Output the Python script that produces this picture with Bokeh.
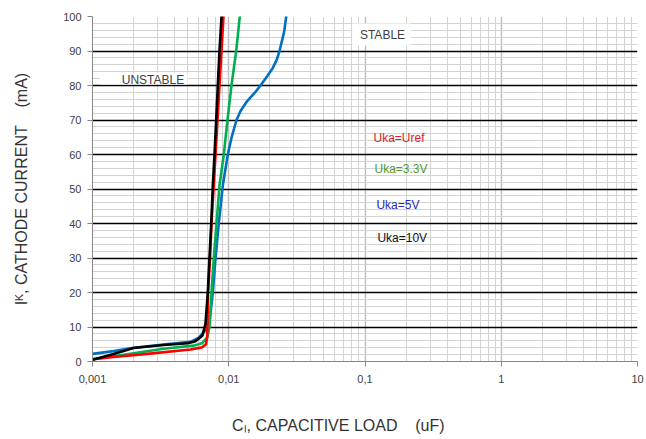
from bokeh.plotting import figure
from bokeh.models import FixedTicker, ColumnDataSource
from bokeh.core.properties import value
from bokeh.embed import file_html
from bokeh.resources import INLINE

# ---------------- data ----------------
x_ticks = [0.001, 0.01, 0.1, 1, 10]
x_tick_labels = ["0,001", "0,01", "0,1", "1", "10"]
y_ticks = [0, 10, 20, 30, 40, 50, 60, 70, 80, 90, 100]

# Uka = Uref (red)
c_uref = [0.001, 0.00143, 0.00252, 0.00524, 0.00638, 0.00680, 0.00695, 0.00705,
          0.00729, 0.00747, 0.0080, 0.00855, 0.00915]
i_uref = [0.7, 1.3, 2.2, 3.5, 4.1, 5.0, 7.0, 20, 30, 40, 60, 80, 100]

# Uka = 3.3V (green)
c_33 = [0.001, 0.00143, 0.00332, 0.00551, 0.00638, 0.00695, 0.00722, 0.00747,
        0.00777, 0.00813, 0.00855, 0.0092, 0.00979, 0.01047, 0.01134, 0.01205]
i_33 = [0.6, 1.5, 3.7, 4.6, 5.3, 7.0, 10, 20, 30, 40, 51, 60, 70, 80, 90, 100]

# Uka = 5V (blue)
c_5 = [0.001, 0.00143, 0.0020, 0.00332, 0.00524, 0.00603, 0.00656, 0.00715,
       0.00764, 0.0080, 0.00845, 0.00904, 0.00984, 0.01047, 0.0114, 0.0122, 0.01366,
       0.01553, 0.0171, 0.01915, 0.02106, 0.02253, 0.02358, 0.02553, 0.02641]
i_5 = [2.2, 3.0, 4.0, 4.9, 5.7, 6.9, 8.5, 10, 20, 30, 40, 51, 60, 64.8, 70, 72.6, 75.5,
       77.9, 80, 82.7, 85.1, 87.5, 90, 95.7, 100]

# Uka = 10V (black)
c_10 = [0.001, 0.00143, 0.0020, 0.00332, 0.0050, 0.0057, 0.0064, 0.00675, 0.00702,
        0.00722, 0.00744, 0.00764, 0.00786, 0.00809, 0.00831, 0.00855, 0.00885]
i_10 = [0.5, 2.2, 3.9, 4.8, 5.3, 5.9, 7.5, 10.9, 20, 30, 40, 51, 60, 70, 80, 90, 100]

legend_labels = ["Uka=Uref", "Uka=3.3V", "Uka=5V", "Uka=10V"]
legend_colors = ["#e3171d", "#4f9a2c", "#2b2bb3", "#111111"]
line_colors = ["#ff0000", "#00b050", "#0070c0", "#000000"]

NB = "\u00a0"
x_title = "C\u2097, CAPACITIVE LOAD" + NB * 4 + "(uF)" + NB * 12
y_title = "I\u1d37, CATHODE CURRENT" + NB * 4 + "(mA)"

# ---------------- figure ----------------
W, H = 646, 439
p = figure(width=W, height=H, x_axis_type="log", x_range=(0.001, 10), y_range=(0, 100),
           output_backend="svg", toolbar_location=None,
           min_border_left=92, min_border_right=9, min_border_top=16, min_border_bottom=78)
p.outline_line_color = None
p.background_fill_color = "white"

x_minor = [k * 10 ** e for e in range(-3, 1) for k in range(2, 10)]
y_minor = [v for v in range(2, 100, 2) if v % 10 != 0]

# grids
p.xgrid.ticker = FixedTicker(ticks=x_ticks, minor_ticks=x_minor)
p.xgrid.grid_line_color = "#bdbdbd"
p.xgrid.grid_line_width = 1.4
p.xgrid.minor_grid_line_color = "#d3d3d3"
p.xgrid.minor_grid_line_width = 1

p.ygrid.ticker = FixedTicker(ticks=y_ticks[1:], minor_ticks=y_minor)
p.ygrid.grid_line_color = "#000000"
p.ygrid.grid_line_width = 1.3
p.ygrid.minor_grid_line_color = "#d3d3d3"
p.ygrid.minor_grid_line_width = 1

# axes
p.xaxis.ticker = FixedTicker(ticks=x_ticks)
p.xaxis.major_label_overrides = {t: l for t, l in zip(x_ticks, x_tick_labels)}
p.yaxis.ticker = FixedTicker(ticks=y_ticks)
for ax in (p.xaxis, p.yaxis):
    ax.axis_line_color = "#868686"
    ax.axis_line_width = 1
    ax.major_tick_line_color = "#868686"
    ax.major_tick_in = 0
    ax.major_tick_out = 5
    ax.minor_tick_line_color = None
    ax.major_label_text_font = "Liberation Sans"
    ax.major_label_text_font_size = "11px"
    ax.major_label_text_color = "#404040"
    ax.axis_label_text_font = "Liberation Sans"
    ax.axis_label_text_font_size = "16px"
    ax.axis_label_text_font_style = "normal"
    ax.axis_label_text_color = "#333333"
p.xaxis.major_label_standoff = 8
p.yaxis.major_label_standoff = 6
p.xaxis.axis_label = x_title
p.yaxis.axis_label = y_title
p.xaxis.axis_label_standoff = 31
p.yaxis.axis_label_standoff = 30

# white label boxes
p.quad(left=[0.0809, 0.00114], right=[0.2158, 0.00498], top=[98.0, 83.6], bottom=[91.6, 80.3],
       fill_color="white", line_color=None)
p.text(x=[0.1344, 0.00278], y=[94.5, 81.7], text=["STABLE", "UNSTABLE"],
       text_font=value("Liberation Sans"), text_font_size="12px", text_color="#404040",
       text_align="center", text_baseline="middle")

# curves (drawn back to front)
curves = [(c_5, i_5, line_colors[2]), (c_33, i_33, line_colors[1]),
          (c_uref, i_uref, line_colors[0]), (c_10, i_10, line_colors[3])]
for cx, iy, col in curves:
    p.line(cx, iy, line_color=col, line_width=2.6, line_join="round", line_cap="round")

# series labels
src = ColumnDataSource(dict(x=[0.1155, 0.1174, 0.1213, 0.1233], y=[64.9, 55.7, 45.5, 35.9],
                            text=legend_labels, color=legend_colors))
p.text(x="x", y="y", text="text", text_color="color", source=src,
       text_font=value("Liberation Sans"), text_font_size="12px",
       text_align="left", text_baseline="middle")

open("out.html", "w").write(file_html(p, INLINE))
